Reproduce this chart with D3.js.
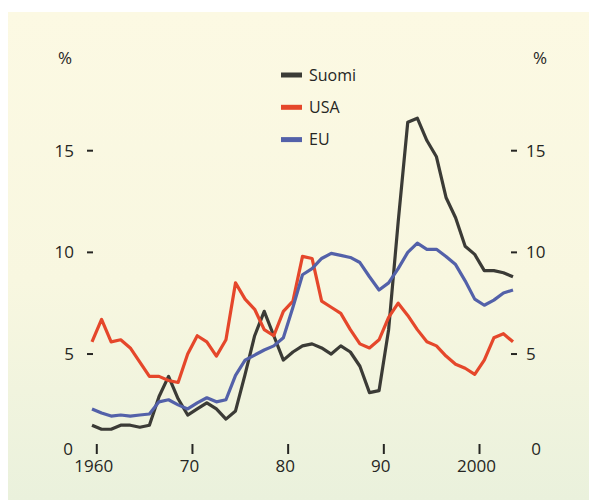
<!DOCTYPE html>
<html>
<head>
<meta charset="utf-8">
<script src="https://cdn.jsdelivr.net/npm/d3@7"></script>
<style>
  html, body { margin: 0; padding: 0; background: #fff; }
  svg { display: block; }
</style>
</head>
<body>
<div id="chart"></div>
<script>
// ── Data: työttömyysaste %, 1960–2004 ──
const years = d3.range(1960, 2005);

const suomi = [1.5, 1.3, 1.3, 1.5, 1.5, 1.4, 1.5, 2.9, 3.9, 2.8,
  2.0, 2.3, 2.6, 2.3, 1.8, 2.2, 4.0, 5.9, 7.1, 5.9,
  4.7, 5.1, 5.4, 5.5, 5.3, 5.0, 5.4, 5.1, 4.4, 3.1,
  3.2, 6.2, 11.5, 16.4, 16.6, 15.5, 14.7, 12.7, 11.7, 10.3,
  9.9, 9.1, 9.1, 9.0, 8.8];

const usa = [5.6, 6.7, 5.6, 5.7, 5.3, 4.6, 3.9, 3.9, 3.7, 3.6,
  5.0, 5.9, 5.6, 4.9, 5.7, 8.5, 7.7, 7.2, 6.2, 5.9,
  7.1, 7.6, 9.8, 9.7, 7.6, 7.3, 7.0, 6.2, 5.5, 5.3,
  5.7, 6.8, 7.5, 6.9, 6.2, 5.6, 5.4, 4.9, 4.5, 4.3,
  4.0, 4.7, 5.8, 6.0, 5.6];

const eu = [2.3, 2.1, 1.95, 2.0, 1.95, 2.0, 2.05, 2.65, 2.75, 2.5,
  2.3, 2.6, 2.85, 2.65, 2.75, 3.95, 4.7, 4.95, 5.2, 5.4,
  5.8, 7.3, 8.9, 9.2, 9.7, 9.95, 9.85, 9.75, 9.5, 8.8,
  8.15, 8.5, 9.2, 10.0, 10.45, 10.15, 10.15, 9.8, 9.4, 8.6,
  7.7, 7.4, 7.65, 8.0, 8.15];

const seriesNames = ['Suomi', 'USA', 'EU'];
const seriesColors = ['#3b3b36', '#e5472b', '#5361a9'];
const yTicks = [5, 10, 15];
const xTicks = [1960, 1970, 1980, 1990, 2000];
const xTickLabels = ['1960', '70', '80', '90', '2000'];

const W = 589, H = 504;
const FONT = '"Open Sans", "Noto Sans", sans-serif';
const INK = '#262623';

const svg = d3.select('#chart')
  .append('svg')
  .attr('width', W)
  .attr('height', H);

// Background gradient (cream → pale green)
const grad = svg.append('defs').append('linearGradient')
  .attr('id', 'bg')
  .attr('x1', 0).attr('y1', 0).attr('x2', 0).attr('y2', 1);
grad.append('stop').attr('offset', '0%').attr('stop-color', '#fcf9e3');
grad.append('stop').attr('offset', '55%').attr('stop-color', '#f8f7e0');
grad.append('stop').attr('offset', '100%').attr('stop-color', '#eaf1dc');

svg.append('rect')
  .attr('x', 8).attr('y', 12)
  .attr('width', W - 8).attr('height', 488)
  .attr('fill', 'url(#bg)');

// Scales
const x = d3.scaleLinear().domain([1960, 2004]).range([92, 513]);
const y = d3.scaleLinear().domain([0, 15]).range([455.7, 150.7]);

// Y ticks, both sides
const axes = svg.append('g')
  .attr('font-family', FONT)
  .attr('font-size', 17)
  .attr('fill', INK);

yTicks.forEach(v => {
  const yy = y(v);
  axes.append('line')
    .attr('x1', 87).attr('x2', 93).attr('y1', yy).attr('y2', yy)
    .attr('stroke', INK).attr('stroke-width', 2);
  axes.append('line')
    .attr('x1', 511).attr('x2', 517).attr('y1', yy).attr('y2', yy)
    .attr('stroke', INK).attr('stroke-width', 2);
  axes.append('text')
    .attr('x', 74).attr('y', yy).attr('dy', '0.36em')
    .attr('text-anchor', 'end')
    .text(v);
  axes.append('text')
    .attr('x', 526).attr('y', yy).attr('dy', '0.36em')
    .text(v);
});

// Zeros sit on the x-tick row
axes.append('text').attr('x', 68).attr('y', 449).attr('dy', '0.36em')
  .attr('text-anchor', 'middle').text('0');
axes.append('text').attr('x', 536).attr('y', 449).attr('dy', '0.36em')
  .attr('text-anchor', 'middle').text('0');

// % units
axes.append('text').attr('x', 65).attr('y', 58).attr('dy', '0.36em')
  .attr('text-anchor', 'middle').text('%');
axes.append('text').attr('x', 540).attr('y', 58).attr('dy', '0.36em')
  .attr('text-anchor', 'middle').text('%');

// X ticks (marks sit half a year right of the data point)
xTicks.forEach((t, i) => {
  const xx = x(t + 0.5);
  axes.append('line')
    .attr('x1', xx).attr('x2', xx).attr('y1', 444).attr('y2', 454)
    .attr('stroke', INK).attr('stroke-width', 2);
  axes.append('text')
    .attr('x', xx - 3).attr('y', 466).attr('dy', '0.36em')
    .attr('text-anchor', 'middle')
    .text(xTickLabels[i]);
});

// Lines
const line = d3.line()
  .x((d, i) => x(years[i]))
  .y(d => y(d));

[suomi, usa, eu].forEach((s, i) => {
  svg.append('path')
    .datum(s)
    .attr('fill', 'none')
    .attr('stroke', seriesColors[i])
    .attr('stroke-width', 3.2)
    .attr('stroke-linejoin', 'round')
    .attr('d', line);
});

// Legend
const legend = svg.append('g')
  .attr('font-family', FONT)
  .attr('font-size', 16)
  .attr('fill', INK);

seriesNames.forEach((name, i) => {
  const yy = 75 + i * 32.3;
  legend.append('line')
    .attr('x1', 281).attr('x2', 302).attr('y1', yy).attr('y2', yy)
    .attr('stroke', seriesColors[i]).attr('stroke-width', 5);
  legend.append('text')
    .attr('x', 309).attr('y', yy).attr('dy', '0.36em')
    .text(name);
});
</script>
</body>
</html>
